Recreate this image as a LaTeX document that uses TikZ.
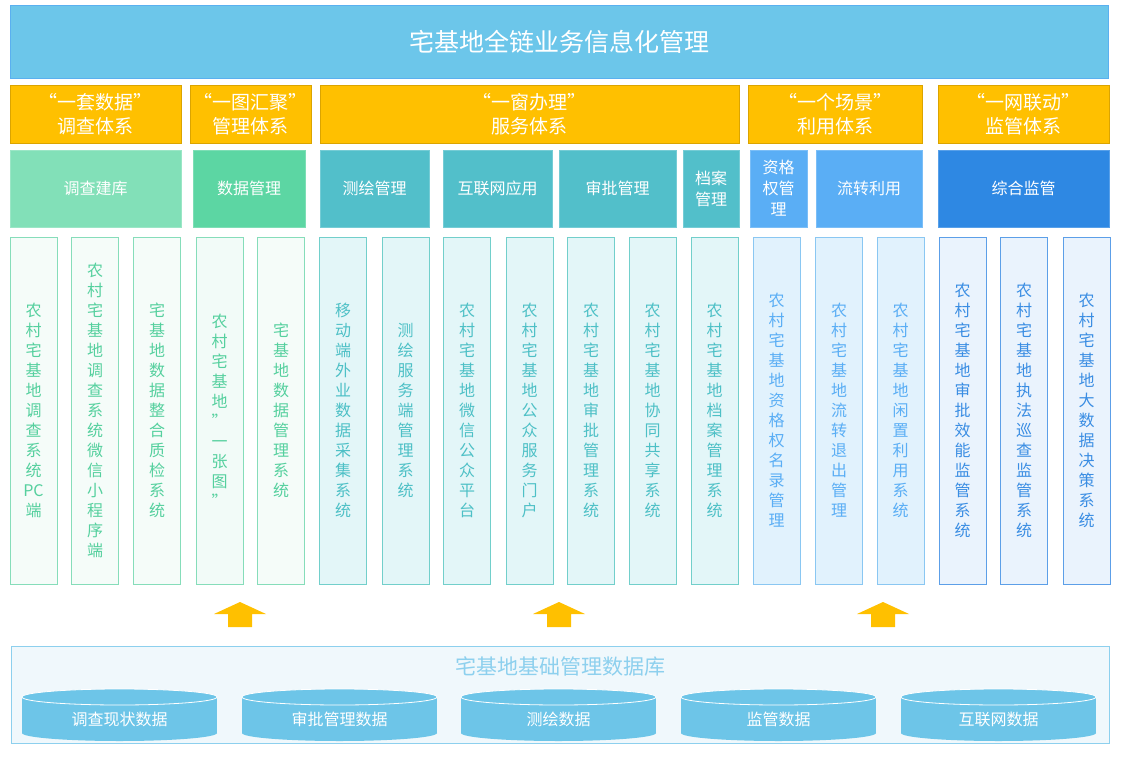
\documentclass[tikz,border=0pt]{standalone}
\usepackage{fontspec}
\setmainfont{Noto Sans CJK SC}
\definecolor{topf}{HTML}{6CC6EA}
\definecolor{topd}{HTML}{5AB0F0}
\definecolor{yelf}{HTML}{FFC000}
\definecolor{yeld}{HTML}{DBA400}
\definecolor{kA}{HTML}{82E0B8}
\definecolor{kB}{HTML}{5CD6A3}
\definecolor{kC}{HTML}{52BFCA}
\definecolor{kD}{HTML}{5AAEF5}
\definecolor{kE}{HTML}{2E88E3}
\definecolor{aF}{HTML}{F5FCF9}
\definecolor{aD}{HTML}{86DDBA}
\definecolor{aT}{HTML}{55D09E}
\definecolor{bF}{HTML}{E3F6F8}
\definecolor{bD}{HTML}{72CFCB}
\definecolor{bT}{HTML}{4DC0C6}
\definecolor{cF}{HTML}{E1F2FD}
\definecolor{cD}{HTML}{8AC7F2}
\definecolor{cT}{HTML}{5AAEF5}
\definecolor{dF}{HTML}{EAF3FD}
\definecolor{dD}{HTML}{5C9FE8}
\definecolor{dT}{HTML}{3A8DE3}
\definecolor{dbF}{HTML}{F0F8FC}
\definecolor{dbD}{HTML}{8DD0EE}
\definecolor{cyl}{HTML}{6DC5E8}
\definecolor{arr}{HTML}{FFC000}
\begin{document}
\begin{tikzpicture}[x=1pt,y=-1pt,
  yel/.style={draw=yeld, fill=yelf, text=white, minimum height=58, inner sep=0, align=center, font=\fontsize{19}{24}\selectfont},
  cat/.style={fill=#1, draw=#1!80!white, text=white, minimum height=77, inner sep=0, align=center, font=\fontsize{16}{21}\selectfont},
  colbox/.style n args={3}{draw=#2, fill=#1, text=#3, minimum width=47, minimum height=347, inner sep=0, align=center, font=\fontsize{16}{20}\selectfont},
  cA/.style={colbox={aF}{aD}{aT}},
  cB/.style={colbox={bF}{bD}{bT}},
  cC/.style={colbox={cF}{cD}{cT}},
  cDs/.style={colbox={dF}{dD}{dT}},
  cyltext/.style={text=white, font=\fontsize{16}{20}\selectfont, inner sep=0},
  uparrow/.style={fill=arr}
]
\useasboundingbox (0,0) rectangle (1126,759);

% top banner
\node[draw=topd, fill=topf, minimum width=1098, minimum height=73, text=white, inner sep=0,
  font=\fontsize{25}{30}\selectfont] (top) at (559,41.5) {宅基地全链业务信息化管理};

% yellow row
\node[yel, minimum width=171] (y1) at (95.5,114) {“一套数据”\\调查体系};
\node[yel, minimum width=121] (y2) at (250.5,114) {“一图汇聚”\\管理体系};
\node[yel, minimum width=419] (y3) at (529.5,114) {“一窗办理”\\服务体系};
\node[yel, minimum width=174] (y4) at (835,114) {“一个场景”\\利用体系};
\node[yel, minimum width=171] (y5) at (1023.5,114) {“一网联动”\\监管体系};

% category row
\node[cat=kA, minimum width=171] (k1) at (95.5,188.5) {调查建库};
\node[cat=kB, minimum width=112] (k2) at (249,188.5) {数据管理};
\node[cat=kC, minimum width=109] (k3) at (374.5,188.5) {测绘管理};
\node[cat=kC, minimum width=109] (k4) at (497.5,188.5) {互联网应用};
\node[cat=kC, minimum width=117] (k5) at (617.5,188.5) {审批管理};
\node[cat=kC, minimum width=56] (k6) at (711,188.5) {档案\\管理};
\node[cat=kD, minimum width=57] (k7) at (778.5,188.5) {资格\\权管\\理};
\node[cat=kD, minimum width=106] (k8) at (869,188.5) {流转利用};
\node[cat=kE, minimum width=171] (k9) at (1023.5,188.5) {综合监管};

% columns
\node[cA] (c1) at (33.5,410.5) {农\\村\\宅\\基\\地\\调\\查\\系\\统\\PC\\端};
\node[cA] (c2) at (95,410.5) {农\\村\\宅\\基\\地\\调\\查\\系\\统\\微\\信\\小\\程\\序\\端};
\node[cA] (c3) at (157,410.5) {宅\\基\\地\\数\\据\\整\\合\\质\\检\\系\\统};
\node[cA, fill=aF!70!aD!30!white] (c4) at (219.5,410.5) {农\\村\\宅\\基\\地\\”\\一\\张\\图\\”};
\node[cA] (c5) at (281,410.5) {宅\\基\\地\\数\\据\\管\\理\\系\\统};
\node[cB] (c6) at (343,410.5) {移\\动\\端\\外\\业\\数\\据\\采\\集\\系\\统};
\node[cB] (c7) at (405.5,410.5) {测\\绘\\服\\务\\端\\管\\理\\系\\统};
\node[cB] (c8) at (467,410.5) {农\\村\\宅\\基\\地\\微\\信\\公\\众\\平\\台};
\node[cB] (c9) at (529.5,410.5) {农\\村\\宅\\基\\地\\公\\众\\服\\务\\门\\户};
\node[cB] (c10) at (591,410.5) {农\\村\\宅\\基\\地\\审\\批\\管\\理\\系\\统};
\node[cB] (c11) at (652.5,410.5) {农\\村\\宅\\基\\地\\协\\同\\共\\享\\系\\统};
\node[cB] (c12) at (714.5,410.5) {农\\村\\宅\\基\\地\\档\\案\\管\\理\\系\\统};
\node[cC] (c13) at (776.5,410.5) {农\\村\\宅\\基\\地\\资\\格\\权\\名\\录\\管\\理};
\node[cC] (c14) at (839,410.5) {农\\村\\宅\\基\\地\\流\\转\\退\\出\\管\\理};
\node[cC] (c15) at (900.5,410.5) {农\\村\\宅\\基\\地\\闲\\置\\利\\用\\系\\统};
\node[cDs] (c16) at (962.5,410.5) {农\\村\\宅\\基\\地\\审\\批\\效\\能\\监\\管\\系\\统};
\node[cDs] (c17) at (1024,410.5) {农\\村\\宅\\基\\地\\执\\法\\巡\\查\\监\\管\\系\\统};
\node[cDs] (c18) at (1086.5,410.5) {农\\村\\宅\\基\\地\\大\\数\\据\\决\\策\\系\\统};

% up arrows
\foreach \cx in {240,559,883}{
  \fill[uparrow] (\cx,602) -- (\cx+26,614) -- (\cx+12,614) -- (\cx+12,627)
     -- (\cx-12,627) -- (\cx-12,614) -- (\cx-26,614) -- cycle;
}

% database block
\node[draw=dbD, fill=dbF, minimum width=1098, minimum height=97, inner sep=0] (db) at (560,694.5) {};
\node[text=dbD, font=\fontsize{21}{25}\selectfont, inner sep=0] (dbt) at (560,666) {宅基地基础管理数据库};

\foreach \lx/\lab/\nm in {22/调查现状数据/d1, 242/审批管理数据/d2, 461/测绘数据/d3, 681/监管数据/d4, 901/互联网数据/d5}{
  \fill[cyl] (\lx,697) rectangle (\lx+195,733);
  \fill[cyl] (\lx+97.5,733) ellipse [x radius=97.5, y radius=8];
  \fill[cyl] (\lx+97.5,697) ellipse [x radius=97.5, y radius=8];
  \draw[white, line width=0.8pt] (\lx+97.5,697) ellipse [x radius=97.5, y radius=8];
  \node[cyltext] (\nm) at (\lx+97.5,719) {\lab};
}
\end{tikzpicture}
\end{document}
